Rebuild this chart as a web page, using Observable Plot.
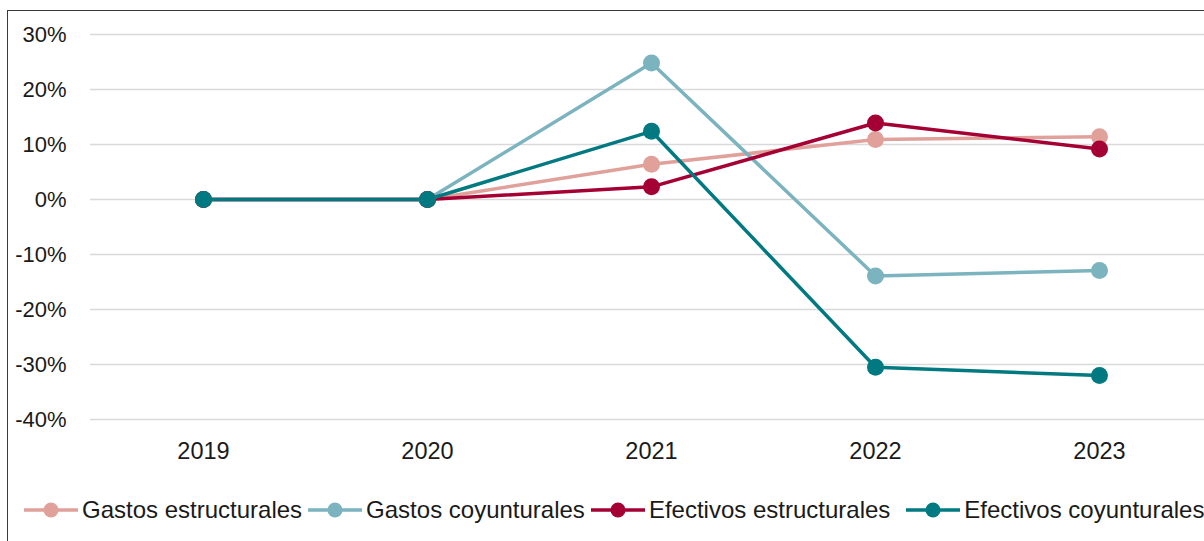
<!DOCTYPE html>
<html>
<head>
<meta charset="utf-8">
<script src="https://cdn.jsdelivr.net/npm/d3@7"></script>
<script src="https://cdn.jsdelivr.net/npm/@observablehq/plot@0.6"></script>
<style>
  html, body { margin: 0; padding: 0; background: #fff; overflow: hidden; }
  body { width: 1204px; height: 541px; position: relative; font-family: "Liberation Sans", Arial, sans-serif; }
  #chart { position: absolute; left: 0; top: 0; }
  .bl { position: absolute; left: 7px; top: 10px; width: 1px; height: 540px; background: #3a3a3a; }
  .bt { position: absolute; left: 7px; top: 10px; width: 1200px; height: 1px; background: #3a3a3a; }
  #legend { position: absolute; left: 24px; top: 497px; display: flex; align-items: center; height: 26px; font-size: 24px; color: #1a1a1a; white-space: nowrap; }
  .item { display: flex; align-items: center; }
  .item span { margin-left: 4px; margin-right: 6px; }
</style>
</head>
<body>
<div class="bl"></div>
<div class="bt"></div>
<div id="chart"></div>
<div id="legend"></div>
<script>
const years = ["2019", "2020", "2021", "2022", "2023"];
const seriesNames = ["Gastos estructurales", "Gastos coyunturales", "Efectivos estructurales", "Efectivos coyunturales"];
const seriesColors = ["#E0A19B", "#7BB3BF", "#A50034", "#007A80"];
const gastosEstructurales = [0, 0, 6.4, 10.9, 11.4];
const gastosCoyunturales = [0, 0, 24.8, -13.9, -12.9];
const efectivosEstructurales = [0, 0, 2.3, 13.9, 9.2];
const efectivosCoyunturales = [0, 0, 12.4, -30.5, -32.0];
const yTicks = [-40, -30, -20, -10, 0, 10, 20, 30];

const seriesValues = [gastosEstructurales, gastosCoyunturales, efectivosEstructurales, efectivosCoyunturales];
const data = [];
seriesNames.forEach((s, i) => years.forEach((y, j) => data.push({series: s, year: y, value: seriesValues[i][j]})));

const chart = Plot.plot({
  width: 1204,
  height: 470,
  marginLeft: 90,
  marginRight: 0,
  marginTop: 34,
  marginBottom: 51,
  style: {fontFamily: "Liberation Sans, Arial, sans-serif", fontSize: "22px", color: "#1a1a1a", background: "transparent", overflow: "hidden"},
  x: {type: "point", domain: years, range: [202, 1099], padding: 0, label: null},
  y: {domain: [-40, 30], label: null},
  color: {domain: seriesNames, range: seriesColors},
  marks: [
    Plot.gridY(yTicks, {stroke: "#d9d9d9", strokeOpacity: 1, strokeWidth: 1.4}),
    Plot.axisY(yTicks, {tickSize: 0, tickPadding: 24, tickFormat: d => d + "%", fontSize: 22, label: null}),
    Plot.axisX({tickSize: 0, tickPadding: 23, fontSize: 23.5, label: null}),
    Plot.line(data, {x: "year", y: "value", z: "series", stroke: "series", strokeWidth: 3.5}),
    Plot.dot(data, {x: "year", y: "value", fill: "series", r: 8.5, stroke: "none"})
  ]
});
document.getElementById("chart").appendChild(chart);

const legend = document.getElementById("legend");
seriesNames.forEach((s, i) => {
  const item = document.createElement("div");
  item.className = "item";
  item.innerHTML = `<svg width="54" height="20"><line x1="0" y1="10" x2="54" y2="10" stroke="${seriesColors[i]}" stroke-width="3.5"/><circle cx="27" cy="10" r="7.5" fill="${seriesColors[i]}"/></svg><span>${s}</span>`;
  if (i === 3) item.style.marginLeft = "10px";
  legend.appendChild(item);
});
</script>
</body>
</html>
